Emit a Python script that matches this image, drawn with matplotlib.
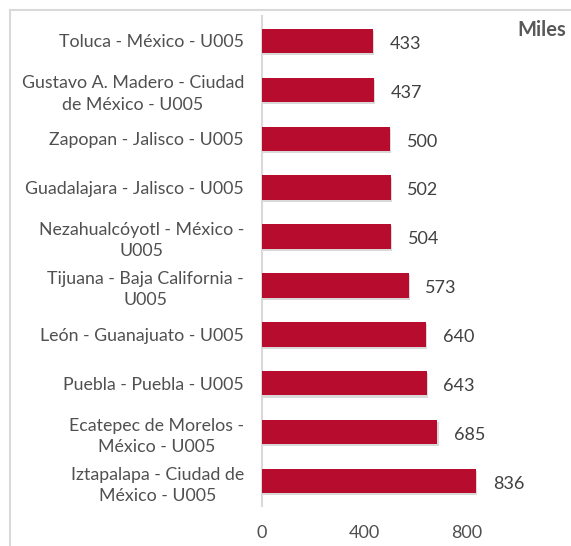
import matplotlib.pyplot as plt
import matplotlib.patheffects as pe
from matplotlib.lines import Line2D

BAR = "#B80C2F"
TEXT = "#404040"
LABEL = "#505050"
FRAME = "#D9D9D9"

plt.rcParams["font.family"] = ["Lato", "DejaVu Sans"]

municipios = [
    "Toluca - México - U005",
    "Gustavo A. Madero - Ciudad\nde México - U005",
    "Zapopan - Jalisco - U005",
    "Guadalajara - Jalisco - U005",
    "Nezahualcóyotl - México -\nU005",
    "Tijuana - Baja California -\nU005",
    "León - Guanajuato - U005",
    "Puebla - Puebla - U005",
    "Ecatepec de Morelos -\nMéxico - U005",
    "Iztapalapa - Ciudad de\nMéxico - U005",
]
valores = [433, 437, 500, 502, 504, 573, 640, 643, 685, 836]
ticks = [0, 400, 800]

W, H = 571, 546
fig = plt.figure(figsize=(W / 100, H / 100), dpi=100)
fig.patch.set_facecolor("white")

# chart frame (left and top edges visible)
fig.add_artist(Line2D([10 / W, 10 / W], [0, 1 - 10 / H], color=FRAME, lw=1.5))
fig.add_artist(Line2D([10 / W, 1], [1 - 10 / H, 1 - 10 / H], color=FRAME, lw=1.5))

ax = fig.add_axes([262 / W, 40.5 / H, 256 / W, 489 / H])
pos = list(range(len(municipios)))
bars = ax.barh(pos, valores, height=0.5, color=BAR, zorder=3)
for b in bars:
    b.set_path_effects([
        pe.SimplePatchShadow(offset=(1, -1.5), shadow_rgbFace="#000000", alpha=0.15),
        pe.Normal(),
    ])

for p, v in zip(pos, valores):
    ax.annotate(f"{v:,}", xy=(v, p), xytext=(12, -2), textcoords="offset points",
                ha="left", va="center", fontsize=13, color=TEXT)

ax.set_xlim(0, 1000)
ax.set_ylim(len(municipios) - 0.5, -0.5)
ax.set_yticks(pos)
ax.set_yticklabels(municipios, fontsize=12.8, color=LABEL, multialignment="center",
                   linespacing=1.4)
ax.set_xticks(ticks)
ax.set_xticklabels([str(t) for t in ticks], fontsize=13, color=LABEL)
ax.tick_params(axis="both", length=0)
ax.tick_params(axis="y", pad=13)
ax.tick_params(axis="x", pad=14)
for s in ["top", "right", "bottom"]:
    ax.spines[s].set_visible(False)
ax.spines["left"].set_color(FRAME)
ax.spines["left"].set_linewidth(1.5)

fig.text(542 / W, 1 - 30 / H, "Miles", ha="center", va="center",
         fontsize=14.5, fontweight="bold", color="#595959")

fig.savefig("out.png", dpi=100, facecolor="white")
